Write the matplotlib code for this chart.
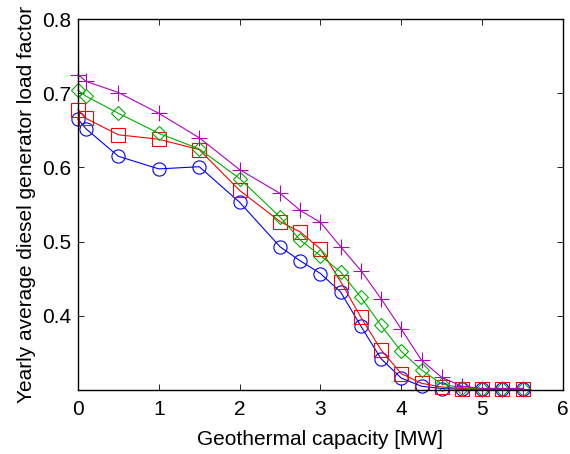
import matplotlib
matplotlib.use("Agg")
import matplotlib.pyplot as plt

plt.rcParams['font.family'] = ['Liberation Sans', 'DejaVu Sans']

capacity = [0, 0.1, 0.5, 1.0, 1.5, 2.0, 2.5, 2.75, 3.0, 3.25, 3.5, 3.75, 4.0, 4.25, 4.5, 4.75, 5.0, 5.25, 5.5]

blue_circle = [0.665, 0.652, 0.615, 0.598, 0.601, 0.553, 0.493, 0.474, 0.457, 0.432, 0.386, 0.342, 0.316, 0.305, 0.302, 0.301, 0.301, 0.301, 0.301]
red_square = [0.678, 0.666, 0.644, 0.638, 0.624, 0.569, 0.527, 0.513, 0.490, 0.446, 0.398, 0.354, 0.322, 0.309, 0.304, 0.302, 0.302, 0.302, 0.302]
green_diamond = [0.704, 0.696, 0.673, 0.646, 0.625, 0.585, 0.533, 0.502, 0.481, 0.459, 0.425, 0.387, 0.352, 0.327, 0.308, 0.303, 0.302, 0.302, 0.302]
magenta_plus = [0.725, 0.716, 0.701, 0.673, 0.640, 0.597, 0.565, 0.542, 0.526, 0.493, 0.461, 0.423, 0.382, 0.340, 0.317, 0.305, 0.302, 0.302, 0.302]

xticks = [0, 1, 2, 3, 4, 5, 6]
yticks = [0.4, 0.5, 0.6, 0.7, 0.8]

fig = plt.figure(figsize=(5.7, 4.54), dpi=100)
ax = fig.add_axes([0.1368, 0.141, 0.8509, 0.817])

ms = 9.5
lw = 0.8
ax.plot(capacity, blue_circle, color='#0000ff', marker='o', ms=ms, mfc='none', mew=lw, lw=lw, clip_on=False)
ax.plot(capacity, red_square, color='#ff0000', marker='s', ms=ms, mfc='none', mew=lw, lw=lw, clip_on=False)
ax.plot(capacity, green_diamond, color='#00b000', marker='D', ms=ms * 0.8, mfc='none', mew=lw, lw=lw, clip_on=False)
ax.plot(capacity, magenta_plus, color='#b000c0', marker='+', ms=ms * 1.25, mew=lw, lw=lw, clip_on=False)

ax.set_xlim(0, 6)
ax.set_ylim(0.3, 0.8)
ax.set_xticks(xticks)
ax.set_yticks(yticks)
ax.set_yticklabels([f"{v:.1f}" for v in yticks])
ax.tick_params(direction='in', top=True, right=True, labelsize=15, length=4, width=0.6, pad=5)
ax.tick_params(axis='x', pad=7)
for s in ax.spines.values():
    s.set_linewidth(1.0)

ax.set_xlabel('Geothermal capacity [MW]', fontsize=15, labelpad=8)
ax.set_ylabel('Yearly average diesel generator load factor', fontsize=15, labelpad=4)

fig.savefig('out.png', dpi=100)
